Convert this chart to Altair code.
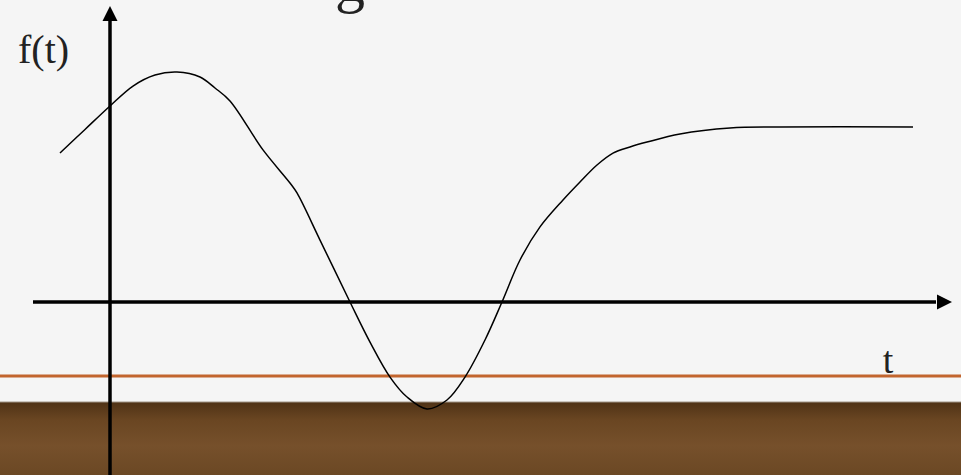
import altair as alt
import pandas as pd

# Response curve f(t): time samples and values
t_vals = [-0.625, -0.3125, 0.0, 0.2875, 0.5625, 0.8375, 1.125, 1.3125, 1.5, 1.9125,
          2.25, 2.3375, 2.625, 3.0, 3.25, 3.5, 3.7125, 3.9625, 4.2125, 4.4375,
          4.6875, 4.9, 5.125, 5.375, 5.6625, 5.875, 6.0875, 6.2875, 6.5, 6.7125,
          7.125, 7.75, 8.375, 10.0375]
f_vals = [0.851, 0.986, 1.12, 1.234, 1.297, 1.314, 1.286, 1.223, 1.149, 0.869,
          0.68, 0.623, 0.354, 0.0, -0.229, -0.429, -0.543, -0.611, -0.56, -0.429,
          -0.217, 0.0, 0.24, 0.429, 0.583, 0.686, 0.783, 0.851, 0.886, 0.914,
          0.96, 0.994, 1.0, 1.0]

# Axis extents (data units)
t_axis = [-0.9625, 10.325]   # horizontal axis line
t_tip = 10.525               # horizontal arrow tip
f_axis = [-0.99, 1.606]      # vertical axis line
f_tip = 1.691                # vertical arrow tip

# Labels: (text, t, f, size, align)
ylabel = ("f(t)", -1.15, 1.366, 40, "left")
xlabel = ("t", 9.725, -0.406, 38, "center")
title_tail = ("g", 3.0, 1.72, 60, "center")

W, H = 961, 475
xs = alt.Scale(domain=[-1.375, 10.6375], nice=False, zero=False)
ys = alt.Scale(domain=[-0.98857, 1.72571], nice=False, zero=False)

curve_df = pd.DataFrame({"t": t_vals, "f": f_vals})
X = lambda f: alt.X(f, type="quantitative", scale=xs, axis=None)
Y = lambda f: alt.Y(f, type="quantitative", scale=ys, axis=None)

base = alt.Chart(pd.DataFrame({"k": [0]}))

# Wooden strip at the bottom of the slide
wood = base.mark_rect(
    fill=alt.Gradient(
        gradient="linear", x1=0, x2=0, y1=0, y2=1,
        stops=[alt.GradientStop(color="#4f3216", offset=0),
               alt.GradientStop(color="#6a4622", offset=0.25),
               alt.GradientStop(color="#76502b", offset=0.6),
               alt.GradientStop(color="#6b4824", offset=1)],
    )
).encode(x=alt.value(0), x2=alt.value(W), y=alt.value(402), y2=alt.value(H))

wood_edge = base.mark_rule(color="#a09486", strokeWidth=1).encode(
    x=alt.value(0), x2=alt.value(W), y=alt.value(402))

# Orange divider line
divider = base.mark_rule(color="#c2652e", strokeWidth=3).encode(
    x=alt.value(0), x2=alt.value(W), y=alt.value(376))

# Axes with arrowheads
h_axis = alt.Chart(pd.DataFrame({"t0": [t_axis[0]], "t1": [t_axis[1]], "f": [0.0]})).mark_rule(
    color="black", strokeWidth=3.5).encode(x=X("t0"), x2="t1", y=Y("f"))
v_axis = alt.Chart(pd.DataFrame({"f0": [f_axis[0]], "f1": [f_axis[1]], "t": [0.0]})).mark_rule(
    color="black", strokeWidth=3.5).encode(y=Y("f0"), y2="f1", x=X("t"))

h_arrow = alt.Chart(pd.DataFrame({"t": [t_tip], "f": [0.0]})).mark_point(
    shape="M0,0 L-1,-0.5 L-1,0.5 Z", size=900, filled=True, color="black", opacity=1,
    strokeWidth=0).encode(x=X("t"), y=Y("f"))
v_arrow = alt.Chart(pd.DataFrame({"t": [0.0], "f": [f_tip]})).mark_point(
    shape="M0,0 L-0.5,1 L0.5,1 Z", size=900, filled=True, color="black", opacity=1,
    strokeWidth=0).encode(x=X("t"), y=Y("f"))

curve = alt.Chart(curve_df).mark_line(
    color="black", strokeWidth=1.5, interpolate="catmull-rom").encode(x=X("t"), y=Y("f"))


def label(spec):
    text, t, f, size, align = spec
    return alt.Chart(pd.DataFrame({"text": [text], "t": [t], "f": [f]})).mark_text(
        font="Liberation Serif", color="#222222", align=align, baseline="alphabetic",
        fontSize=size,
    ).encode(x=X("t"), y=Y("f"), text="text:N")


chart = alt.layer(
    wood, wood_edge, divider, h_axis, v_axis, h_arrow, v_arrow, curve,
    label(ylabel), label(xlabel), label(title_tail),
).properties(
    width=W, height=H, padding=0, autosize=alt.AutoSizeParams(type="none"),
    background="#f5f5f5",
).configure_view(strokeWidth=0)

chart.save("out.html", embed_options={"renderer": "svg", "actions": False})
